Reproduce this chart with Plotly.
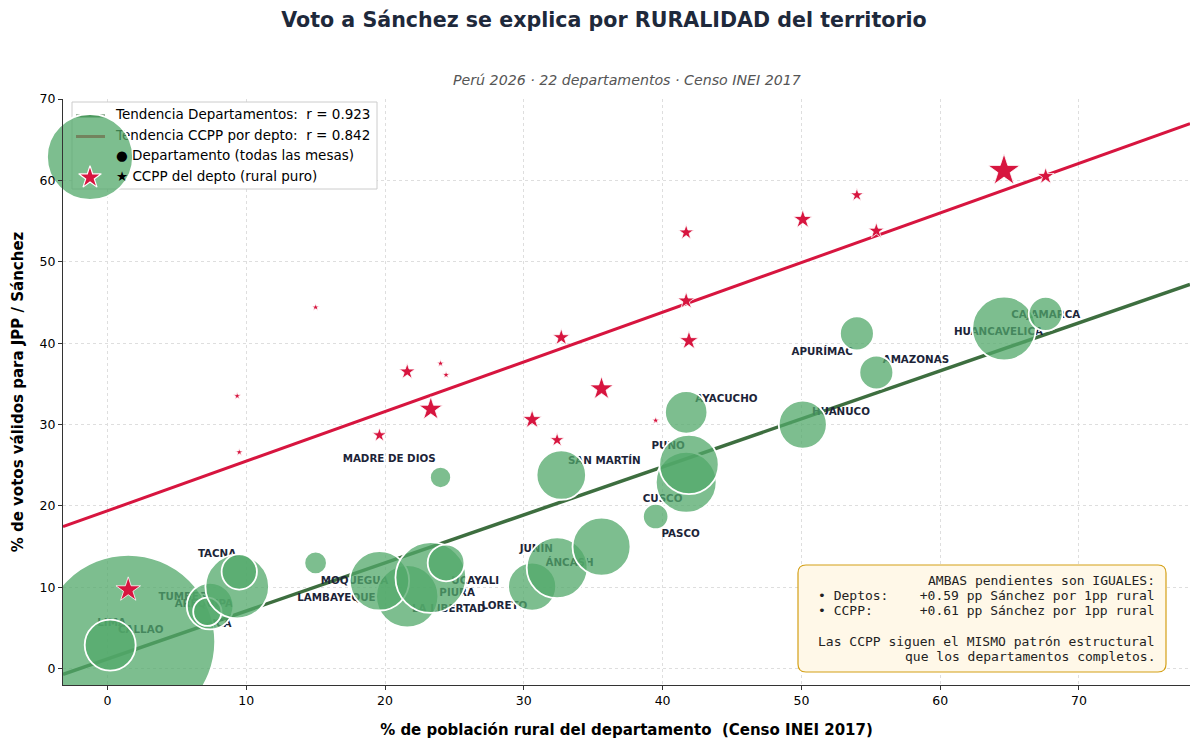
import numpy as np
import plotly.graph_objects as go

# departamentos, en el orden en que se dibujan
deptos = ["LIMA", "CALLAO", "ICA", "TUMBES", "AREQUIPA", "TACNA", "MOQUEGUA",
          "LA LIBERTAD", "LAMBAYEQUE", "PIURA", "UCAYALI", "MADRE DE DIOS", "LORETO",
          "JUNÍN", "ÁNCASH", "SAN MARTÍN", "PASCO", "CUSCO", "PUNO", "AYACUCHO",
          "HUANUCO", "APURÍMAC", "AMAZONAS", "CAJAMARCA", "HUANCAVELICA"]
rural_pct = [1.5, 0.2, 7.4, 7.2, 9.35, 9.5, 15.0, 21.6, 19.6, 23.3, 24.4, 24.0, 30.6,
             32.4, 35.6, 32.7, 39.5, 41.7, 41.9, 41.7, 50.1, 54.0, 55.4, 64.6, 67.6]
voto_depto = [3.3, 2.9, 7.7, 7.0, 10.1, 11.9, 13.0, 8.9, 10.8, 11.2, 13.0, 23.5, 10.1,
              12.4, 15.0, 23.8, 18.7, 22.9, 25.1, 31.5, 30.0, 41.2, 36.4, 41.8, 43.6]
# votos validos (miles) -> area de la burbuja
votos_depto = [4990, 428, 359, 132, 668, 206, 84, 639, 582, 825, 223, 74, 381,
               610, 555, 404, 107, 610, 582, 297, 381, 190, 190, 668, 190]

# centros poblados rurales de cada depto
ccpp_depto = ["LIMA", "AREQUIPA", "TACNA", "MOQUEGUA", "LA LIBERTAD", "LAMBAYEQUE",
              "PIURA", "UCAYALI", "MADRE DE DIOS", "LORETO", "JUNÍN", "ÁNCASH",
              "SAN MARTÍN", "PASCO", "CUSCO", "PUNO", "AYACUCHO", "HUANUCO",
              "APURÍMAC", "AMAZONAS", "CAJAMARCA", "HUANCAVELICA"]
voto_ccpp = [9.7, 33.5, 26.6, 44.4, 36.5, 28.7, 31.9, 36.1, 37.5, 30.6, 28.1, 34.4,
             40.7, 30.5, 45.2, 40.3, 53.6, 55.2, 58.2, 53.8, 61.2, 60.5]
votos_ccpp = [17, 1.6, 1.6, 1.6, 7.2, 5.6, 15.6, 1.6, 1.6, 10, 5.6, 15.6,
              8.1, 1.6, 8.1, 10, 6.4, 10, 4.9, 7.2, 28.9, 8.1]

# rectas de tendencia
pend_depto, inter_depto, r_depto = 0.59, 1.2, 0.923
pend_ccpp, inter_ccpp, r_ccpp = 0.61, 19.4, 0.842

# desplazamiento de etiquetas (unidades de datos)
label_off = {
    "LIMA": (-1.2, 2.3), "CALLAO": (2.2, 1.8), "ICA": (0.85, -2.3), "TUMBES": (-1.8, 1.7),
    "AREQUIPA": (-2.4, -2.2), "TACNA": (-1.6, 2.2), "MOQUEGUA": (2.8, -2.3),
    "LA LIBERTAD": (3.0, -1.6), "LAMBAYEQUE": (-3.1, -2.2), "PIURA": (1.9, -2.0),
    "UCAYALI": (2.1, -2.3), "MADRE DE DIOS": (-3.7, 2.2), "LORETO": (-2.0, -2.4),
    "JUNÍN": (-1.5, 2.2), "ÁNCASH": (-2.3, -2.1), "SAN MARTÍN": (3.1, 1.7),
    "PASCO": (1.8, -2.2), "CUSCO": (-1.7, -2.1), "PUNO": (-1.5, 2.2),
    "AYACUCHO": (2.9, 1.55), "HUANUCO": (2.75, 1.5), "APURÍMAC": (-2.5, -2.3),
    "AMAZONAS": (2.85, 1.5), "CAJAMARCA": (3.0, 1.6), "HUANCAVELICA": (-3.4, -2.3),
}

VERDE = "rgba(82,168,106,0.75)"
VERDE_OSC = "#3d6e3f"
ROJO = "#d7153f"
TXT = "#1c2438"
FONT = "DejaVu Sans"

x_range = [-3.2, 78]
y_range = [-2, 70]

# la pagina agrega 8px de margen al div
OFF = 8
FIG_W, FIG_H = 1200 - OFF, 747 - OFF
# area de ejes en pixeles de la imagen
L, T, W, H = 63, 99, 1127, 586


def px2paper(px, py):
    return (px - L) / W, 1 - (py - T) / H


fig = go.Figure()

xs = np.array(x_range)
fig.add_trace(go.Scatter(x=xs, y=inter_ccpp + pend_ccpp * xs, mode="lines",
                         line=dict(color=ROJO, width=3), hoverinfo="skip"))
fig.add_trace(go.Scatter(x=xs, y=inter_depto + pend_depto * xs, mode="lines",
                         line=dict(color=VERDE_OSC, width=3.5), hoverinfo="skip"))

# etiquetas debajo de las burbujas
lx = [x + label_off[d][0] for d, x in zip(deptos, rural_pct)]
ly = [y + label_off[d][1] for d, y in zip(deptos, voto_depto)]
fig.add_trace(go.Scatter(x=lx, y=ly, text=deptos, mode="text", textposition="middle center",
                         textfont=dict(family=FONT, size=10.3, color=TXT, weight="bold"),
                         hoverinfo="skip"))

fig.add_trace(go.Scatter(
    x=rural_pct, y=voto_depto, mode="markers", text=deptos,
    marker=dict(size=votos_depto, sizemode="area", sizeref=0.33, color=VERDE, opacity=1,
                line=dict(color="white", width=1.8)),
))

rural_map = dict(zip(deptos, rural_pct))
fig.add_trace(go.Scatter(
    x=[rural_map[d] for d in ccpp_depto], y=voto_ccpp, mode="markers", text=ccpp_depto,
    marker=dict(symbol="star", size=votos_ccpp, sizemode="area", sizeref=0.1, color=ROJO,
                opacity=1, line=dict(color="white", width=0.8)),
))

# leyenda a mano (ejes superpuestos en fraccion 0-1)
leg = dict(xaxis="x2", yaxis="y2", hoverinfo="skip")
leg_font = dict(family=FONT, size=13.5, color="black")
bx0, by0 = px2paper(72, 189)
bx1, by1 = px2paper(377, 102)
fig.add_trace(go.Scatter(x=[bx0, bx1, bx1, bx0, bx0], y=[by0, by0, by1, by1, by0],
                         mode="lines", fill="toself", fillcolor="white",
                         line=dict(color="#cccccc", width=1), **leg))
hx0, _ = px2paper(76, 0)
hx1, _ = px2paper(105, 0)
tx, _ = px2paper(116, 0)
hx, _ = px2paper(90, 0)
rows = [px2paper(0, py)[1] for py in (116, 136.5, 157, 177.5)]
fig.add_trace(go.Scatter(x=[hx0, hx1], y=[rows[0]] * 2, mode="lines",
                         line=dict(color=VERDE_OSC, width=3), **leg))
fig.add_trace(go.Scatter(x=[hx0, hx1], y=[rows[1]] * 2, mode="lines",
                         line=dict(color=ROJO, width=3), **leg))
fig.add_trace(go.Scatter(
    x=[tx] * 2, y=rows[:2], mode="text", textposition="middle right",
    text=[f"Tendencia Departamentos:  r = {r_depto:.3f}",
          f"Tendencia CCPP por depto:  r = {r_ccpp:.3f}"],
    textfont=leg_font, **leg))
fig.add_trace(go.Scatter(x=[hx], y=[rows[2]], mode="markers", cliponaxis=False,
                         marker=dict(size=86, color=VERDE, opacity=1,
                                     line=dict(color="white", width=1.8)), **leg))
fig.add_trace(go.Scatter(
    x=[tx] * 2, y=rows[2:], mode="text", textposition="middle right",
    text=["● Departamento (todas las mesas)", "★ CCPP del depto (rural puro)"],
    textfont=leg_font, **leg))
fig.add_trace(go.Scatter(x=[hx], y=[rows[3]], mode="markers", cliponaxis=False,
                         marker=dict(symbol="star", size=17, color=ROJO, opacity=1,
                                     line=dict(color="white", width=1.2)), **leg))

# recuadro de pendientes
rx0, ry0 = px2paper(798, 672)
rx1, ry1 = px2paper(1166, 565)
rr = 8 / W
rry = 8 / H
fig.add_shape(
    type="path", xref="paper", yref="paper", layer="above",
    path=(f"M {rx0 + rr} {ry0} L {rx1 - rr} {ry0} Q {rx1} {ry0} {rx1} {ry0 + rry} "
          f"L {rx1} {ry1 - rry} Q {rx1} {ry1} {rx1 - rr} {ry1} "
          f"L {rx0 + rr} {ry1} Q {rx0} {ry1} {rx0} {ry1 - rry} "
          f"L {rx0} {ry0 + rry} Q {rx0} {ry0} {rx0 + rr} {ry0} Z"),
    fillcolor="#fff8e8", line=dict(color="#d4a017", width=1.2),
)
box_lines = ["AMBAS pendientes son IGUALES:",
             f"• Deptos:    +{pend_depto:.2f} pp Sánchez por 1pp rural",
             f"• CCPP:      +{pend_ccpp:.2f} pp Sánchez por 1pp rural",
             "Las CCPP siguen el MISMO patrón estructural",
             "que los departamentos completos."]
text_x, _ = px2paper(1157, 0)
for line, py in zip(box_lines, (580, 595.3, 610.5, 641, 656.2)):
    fig.add_annotation(
        xref="paper", yref="paper", x=text_x, y=px2paper(0, py)[1],
        xanchor="right", yanchor="middle", showarrow=False,
        text=line.replace(" ", "&nbsp;"),
        font=dict(family="DejaVu Sans Mono", size=13, color="#222222"),
    )

fig.add_annotation(
    xref="paper", yref="paper", x=0.5, y=px2paper(0, 80)[1], xanchor="center",
    yanchor="middle", showarrow=False,
    text="<i>Perú 2026 · 22 departamentos · Censo INEI 2017</i>",
    font=dict(family=FONT, size=14.2, color="#555555"),
)

grid = dict(showgrid=True, gridcolor="#dedede", griddash="3px,3px", gridwidth=1,
            zeroline=False, showline=True, linecolor="#333333", linewidth=1.2,
            ticks="outside", ticklen=4, tickcolor="#333333", automargin=False,
            tickfont=dict(family=FONT, size=12.5, color="black"))
fig.update_layout(
    width=FIG_W, height=FIG_H,
    margin=dict(l=L - OFF, r=FIG_W - (L - OFF) - W, t=T - OFF, b=FIG_H - (T - OFF) - H),
    plot_bgcolor="white", paper_bgcolor="white",
    showlegend=False,
    title=dict(text="<b>Voto a Sánchez se explica por RURALIDAD del territorio</b>",
               x=0.5, xanchor="center", y=1 - (19.5 - OFF) / FIG_H, yanchor="middle",
               font=dict(family=FONT, size=20.6, color="#1e293b")),
    xaxis=dict(range=x_range, dtick=10, **grid,
               title=dict(text="<b>% de población rural del departamento  (Censo INEI 2017)</b>",
                          font=dict(family=FONT, size=15, color="black"), standoff=17)),
    yaxis=dict(range=y_range, dtick=10, **grid,
               title=dict(text="<b>% de votos válidos para JPP / Sánchez</b>",
                          font=dict(family=FONT, size=15, color="black"), standoff=12)),
    xaxis2=dict(overlaying="x", range=[0, 1], visible=False),
    yaxis2=dict(overlaying="y", range=[0, 1], visible=False),
)

fig.write_html("out.html")
